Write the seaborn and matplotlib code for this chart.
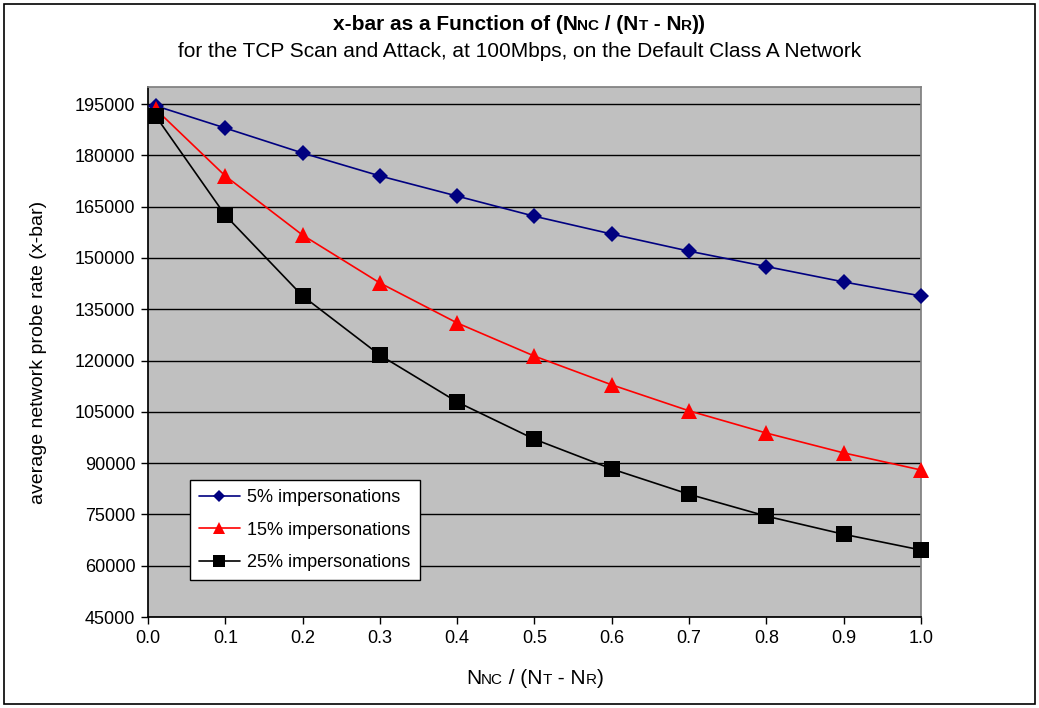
import matplotlib
matplotlib.use("Agg")
import matplotlib.pyplot as plt
import matplotlib.patches as patches
from matplotlib.ticker import MultipleLocator, FormatStrFormatter
import pandas as pd
import seaborn as sns

# ratio N_NC / (N_T - N_R)
ratio = [0.01, 0.1, 0.2, 0.3, 0.4, 0.5, 0.6, 0.7, 0.8, 0.9, 1.0]

# average network probe rate (x-bar) per impersonation level
imp_5 = [194500, 188000, 180700, 174000, 168100, 162200, 157000, 152000, 147500, 143000, 138900]
imp_15 = [193500, 174000, 156700, 142700, 131000, 121300, 112900, 105300, 98800, 93000, 88000]
imp_25 = [191500, 162500, 138900, 121600, 107900, 97000, 88300, 80900, 74500, 69200, 64600]

series_names = ["5% impersonations", "15% impersonations", "25% impersonations"]
colors = ["#000080", "#ff0000", "#000000"]
marker_list = ["D", "^", "s"]
marker_sizes = [8, 11.5, 11]


def rich_line(fig, ax, y, pieces, weight="normal", center=0.5):
    """Draw a line of text made of pieces with different sizes, centred at `center`."""
    texts = []
    for s, size in pieces:
        if not texts:
            t = fig.text(0, y, s, fontsize=size, fontweight=weight, va="baseline", ha="left")
        else:
            t = ax.annotate(s, xy=(1, y), xycoords=(texts[-1], "figure fraction"),
                            fontsize=size, fontweight=weight, va="baseline", ha="left",
                            annotation_clip=False)
        texts.append(t)
    fig.canvas.draw()
    x0 = texts[0].get_window_extent().x0
    x1 = texts[-1].get_window_extent().x1
    w_px = fig.get_figwidth() * fig.dpi
    texts[0].set_x(center - (x1 - x0) / 2 / w_px)
    return texts


df = pd.concat([
    pd.DataFrame({"ratio": ratio, "xbar": vals, "series": name})
    for name, vals in zip(series_names, [imp_5, imp_15, imp_25])
])

sns.set_theme(style="white")
plt.rcParams["font.family"] = ["Liberation Sans", "DejaVu Sans"]
plt.rcParams["text.color"] = "black"
plt.rcParams["axes.labelcolor"] = "black"
plt.rcParams["xtick.color"] = "black"
plt.rcParams["ytick.color"] = "black"

fig = plt.figure(figsize=(10.39, 7.08), dpi=100)
ax = fig.add_axes([0.1424, 0.1285, 0.744, 0.7486])

for name, col, mk, ms in zip(series_names, colors, marker_list, marker_sizes):
    sub = df[df["series"] == name]
    sns.lineplot(data=sub, x="ratio", y="xbar", color=col, marker=mk, markersize=ms,
                 markeredgewidth=0, linewidth=1.2, label=name, ax=ax, zorder=3,
                 clip_on=False)

ax.set_facecolor("#c0c0c0")
ax.set_xlim(0, 1.0)
ax.set_ylim(45000, 200000)
ax.yaxis.set_major_locator(MultipleLocator(15000))
ax.xaxis.set_major_locator(MultipleLocator(0.1))
ax.xaxis.set_major_formatter(FormatStrFormatter("%.1f"))
ax.yaxis.grid(True, color="black", linewidth=1)
ax.xaxis.grid(False)
ax.set_axisbelow(True)

for side in ["left", "bottom"]:
    ax.spines[side].set_color("black")
for side in ["top", "right"]:
    ax.spines[side].set_color("#808080")
ax.tick_params(axis="both", direction="out", length=5, width=1, color="black",
               labelsize=13, bottom=True, left=True, pad=4)

ax.set_xlabel("")
ax.set_ylabel("average network probe rate (x-bar)", fontsize=14, labelpad=20)

leg = ax.legend(loc="lower left", bbox_to_anchor=(0.054, 0.07), borderaxespad=0,
                fontsize=13, frameon=True, fancybox=False, framealpha=1,
                edgecolor="black", handlelength=2.3, handletextpad=0.4,
                borderpad=0.5, labelspacing=0.85, markerscale=0.75)
leg.get_frame().set_linewidth(1)

big, small = 15, 11
rich_line(fig, ax, 0.958, [("x-bar as a Function of (N", big), ("NC", small),
                           (" / (N", big), ("T", small), (" - N", big), ("R", small),
                           ("))", big)], weight="bold")
rich_line(fig, ax, 0.920, [("for the TCP Scan and Attack, at 100Mbps, on the Default Class A Network", 15)])
rich_line(fig, ax, 0.034, [("N", 15), ("NC", 11), (" / (N", 15), ("T", 11), (" - N", 15),
                           ("R", 11), (")", 15)], center=0.5145)

fig.add_artist(patches.Rectangle((0.004, 0.006), 0.992, 0.988, transform=fig.transFigure,
                                 fill=False, edgecolor="black", linewidth=1.2))

fig.savefig("out.png", dpi=100)
